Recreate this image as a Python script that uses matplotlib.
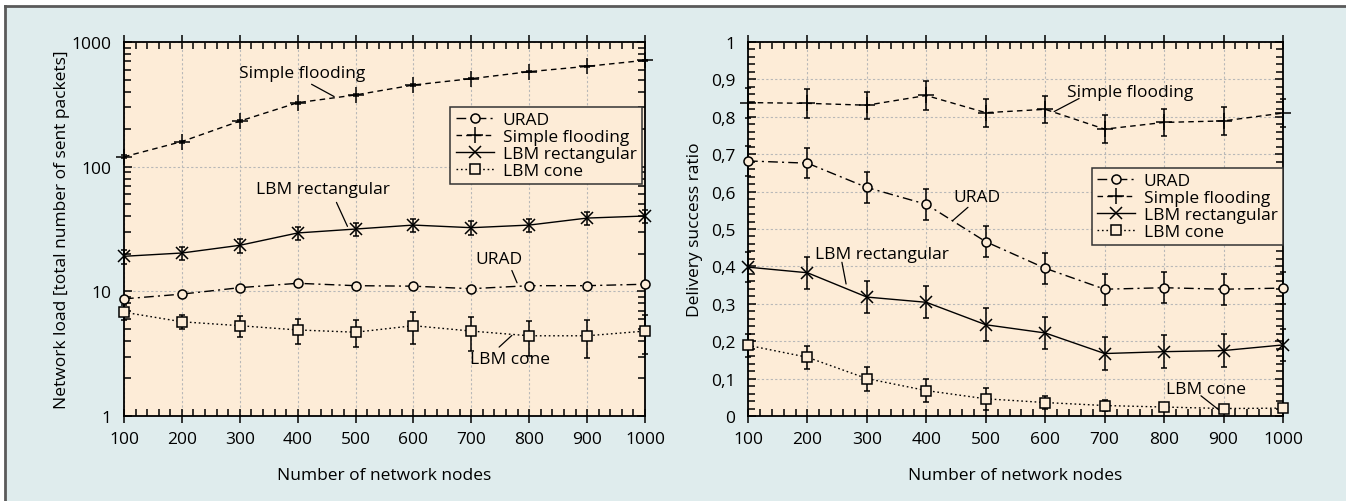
import matplotlib
matplotlib.use("Agg")
import matplotlib.pyplot as plt
from matplotlib.patches import Rectangle
from matplotlib.lines import Line2D
from matplotlib.ticker import MultipleLocator, LogLocator, FixedLocator, NullFormatter
import numpy as np

plt.rcParams['font.family'] = ['Open Sans', 'DejaVu Sans']

# -----------------------------
# DATA
# -----------------------------
nodes = [100, 200, 300, 400, 500, 600, 700, 800, 900, 1000]
series = ["URAD", "Simple flooding", "LBM rectangular", "LBM cone"]

# network load (log scale)
load_urad = [8.7, 9.5, 10.7, 11.6, 11.1, 11.0, 10.5, 11.1, 11.1, 11.4]
load_urad_err = [0.3, 0.3, 0.3, 0.3, 0.3, 0.3, 0.3, 0.3, 0.3, 0.3]
load_flood = [120, 159, 232, 326, 376, 452, 508, 578, 638, 713]
load_flood_err = [3, 3, 4, 5, 5, 5, 6, 6, 6, 7]
load_rect = [19.1, 20.3, 23.4, 29.4, 31.6, 34.0, 32.4, 34.0, 38.7, 40.2]
load_rect_err = [2.5, 2.5, 3.0, 3.5, 4.0, 4.0, 4.0, 4.0, 4.5, 5.0]
load_cone = [6.8, 5.7, 5.3, 4.9, 4.7, 5.3, 4.8, 4.4, 4.4, 4.8]
load_cone_err = [0.9, 0.7, 1.0, 1.1, 1.15, 1.5, 1.45, 1.35, 1.5, 1.65]

# delivery success ratio
dsr_urad = [0.682, 0.676, 0.611, 0.566, 0.466, 0.395, 0.339, 0.343, 0.339, 0.342]
dsr_urad_err = [0.040, 0.040, 0.041, 0.041, 0.041, 0.042, 0.041, 0.041, 0.041, 0.042]
dsr_flood = [0.838, 0.836, 0.831, 0.857, 0.811, 0.820, 0.767, 0.785, 0.789, 0.810]
dsr_flood_err = [0.040, 0.038, 0.036, 0.038, 0.037, 0.036, 0.037, 0.037, 0.037, 0.037]
dsr_rect = [0.398, 0.383, 0.318, 0.304, 0.244, 0.222, 0.167, 0.172, 0.175, 0.190]
dsr_rect_err = [0.041, 0.043, 0.043, 0.043, 0.044, 0.043, 0.043, 0.044, 0.044, 0.043]
dsr_cone = [0.189, 0.157, 0.100, 0.068, 0.046, 0.036, 0.028, 0.024, 0.020, 0.021]
dsr_cone_err = [0.030, 0.030, 0.032, 0.030, 0.029, 0.017, 0.014, 0.010, 0.008, 0.008]

dsr_ticks = [0, 0.1, 0.2, 0.3, 0.4, 0.5, 0.6, 0.7, 0.8, 0.9, 1.0]
dsr_labels = ["0", "0,1", "0,2", "0,3", "0,4", "0,5", "0,6", "0,7", "0,8", "0,9", "1"]

# label text position, leader start, leader end (data coords)
load_notes = [
    ("Simple flooding", (408, 561), (424, 458), (463, 365)),
    ("LBM rectangular", (444, 66), (467, 51.7), (486, 33.2)),
    ("URAD", (748, 18.2), (770, 14.7), (779, 11.7)),
    ("LBM cone", (766, 2.84), (748, 3.57), (770, 4.43)),
]
dsr_notes = [
    ("Simple flooding", (743, 0.866), (657, 0.849), (615, 0.814)),
    ("URAD", (485, 0.585), (470, 0.558), (444, 0.522)),
    ("LBM rectangular", (325, 0.433), (258, 0.411), (265, 0.353)),
    ("LBM cone", (870, 0.072), (862, 0.054), (894, 0.014)),
]

# -----------------------------
# STYLE
# -----------------------------
panel_bg = "#dfeced"
axes_bg = "#fdecd7"
FS = 12.5
styles = {
    "URAD": dict(ls=(0, (7, 3, 1.5, 3)), marker="o", ms=6.5, mfc=axes_bg),
    "Simple flooding": dict(ls=(0, (4, 3)), marker="+", ms=11, mfc="none"),
    "LBM rectangular": dict(ls="-", marker="x", ms=8, mfc="none"),
    "LBM cone": dict(ls=(0, (1.2, 2)), marker="s", ms=7, mfc=axes_bg),
}

fig = plt.figure(figsize=(13.46, 5.02), dpi=100)
fig.patch.set_facecolor("white")
bg = Rectangle((5 / 1346, 0), 1 - 5 / 1346, 1 - 7 / 502, transform=fig.transFigure,
               facecolor=panel_bg, edgecolor="none", zorder=-10)
fig.patches.append(bg)
fig.add_artist(Line2D([5 / 1346, 1], [1 - 7 / 502] * 2, transform=fig.transFigure,
                      color="#5a5a5a", lw=2))
fig.add_artist(Line2D([5 / 1346] * 2, [0, 1 - 7 / 502], transform=fig.transFigure,
                      color="#5a5a5a", lw=2))

ax1 = fig.add_axes([124 / 1346, 85 / 502, 521 / 1346, 374 / 502])
ax2 = fig.add_axes([748 / 1346, 85 / 502, 535 / 1346, 374 / 502])


def draw(ax, data):
    for name, (y, e) in zip(series, data):
        st = styles[name]
        ax.errorbar(nodes, y, yerr=e, color="black", lw=1.0, ls=st["ls"],
                    marker=st["marker"], ms=st["ms"], mfc=st["mfc"], mec="black",
                    mew=1.1, ecolor="black", elinewidth=1.1, capsize=2.5,
                    capthick=1.1, clip_on=False, zorder=3)


def add_legend(ax, anchor):
    handles = []
    for name in series:
        st = styles[name]
        handles.append(Line2D([], [], color="black", lw=1.0, ls=st["ls"],
                              marker=st["marker"], ms=st["ms"], mfc=st["mfc"],
                              mec="black", mew=1.1, label=name))
    leg = ax.legend(handles=handles, loc="upper left", bbox_to_anchor=anchor,
                    fontsize=FS, frameon=True, fancybox=False, edgecolor="#333333",
                    facecolor=axes_bg, framealpha=1, handlelength=2.2,
                    handletextpad=0.5, borderpad=0.3, labelspacing=0.05)
    leg.get_frame().set_linewidth(1.1)


def add_notes(ax, notes):
    for text, pos, start, end in notes:
        ax.text(pos[0], pos[1], text, fontsize=FS, ha="center", va="center", zorder=4)
        ax.annotate("", xy=end, xytext=start,
                    arrowprops=dict(arrowstyle="-", color="black", lw=0.9,
                                    shrinkA=0, shrinkB=0))


def style_axes(ax):
    ax.set_facecolor(axes_bg)
    ax.set_xlim(100, 1000)
    ax.xaxis.set_major_locator(MultipleLocator(100))
    ax.xaxis.set_minor_locator(MultipleLocator(20))
    ax.grid(True, which="major", ls=(0, (2, 2)), color="#b8b8b8", lw=0.8)
    ax.tick_params(which="major", direction="inout", length=10, width=1.1,
                   top=True, right=True, labelsize=FS, pad=6)
    ax.tick_params(which="minor", direction="in", length=5, width=1.1,
                   top=True, right=True)
    ax.tick_params(axis="y", which="major", direction="in", length=6, pad=9)
    for sp in ax.spines.values():
        sp.set_linewidth(1.3)
    ax.set_xlabel("Number of network nodes", fontsize=FS, labelpad=14)


# -----------------------------
# LEFT: network load
# -----------------------------
draw(ax1, [(load_urad, load_urad_err), (load_flood, load_flood_err),
           (load_rect, load_rect_err), (load_cone, load_cone_err)])
ax1.set_yscale("log")
ax1.set_ylim(1, 1000)
ax1.yaxis.set_major_locator(FixedLocator([1, 10, 100, 1000]))
ax1.yaxis.set_minor_locator(LogLocator(base=10, subs=np.arange(2, 10)))
ax1.yaxis.set_minor_formatter(NullFormatter())
ax1.set_yticklabels(["1", "10", "100", "1000"])
style_axes(ax1)
ax1.set_ylabel("Network load [total number of sent packets]", fontsize=FS, labelpad=1)
add_legend(ax1, (0.61, 0.85))
add_notes(ax1, load_notes)

# -----------------------------
# RIGHT: delivery success ratio
# -----------------------------
draw(ax2, [(dsr_urad, dsr_urad_err), (dsr_flood, dsr_flood_err),
           (dsr_rect, dsr_rect_err), (dsr_cone, dsr_cone_err)])
ax2.set_ylim(0, 1)
ax2.yaxis.set_major_locator(FixedLocator(dsr_ticks))
ax2.yaxis.set_minor_locator(MultipleLocator(0.02))
ax2.set_yticklabels(dsr_labels)
style_axes(ax2)
ax2.set_ylabel("Delivery success ratio", fontsize=FS, labelpad=6)
add_legend(ax2, (0.626, 0.687))
add_notes(ax2, dsr_notes)

fig.savefig("out.png", dpi=100, facecolor=fig.get_facecolor())
